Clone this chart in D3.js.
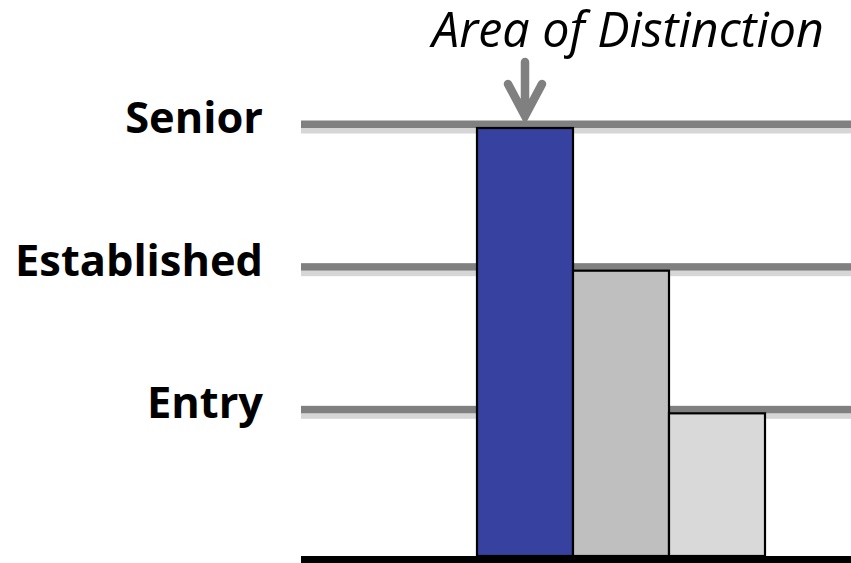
<!DOCTYPE html>
<html><head><meta charset="utf-8">
<script src="https://cdn.jsdelivr.net/npm/d3@7/dist/d3.min.js"></script>
<style>html,body{margin:0;padding:0;background:#fff;overflow:hidden}</style>
</head><body>
<script>
const levels = ["Entry", "Established", "Senior"];
const levelValues = [1, 2, 3];
const barNames = ["A", "B", "C"];
const barValues = [3, 2, 1];
const barColors = ["#3641A0", "#BFBFBF", "#D9D9D9"];
const annotation = "Area of Distinction";

const W = 851, H = 563;
const svg = d3.select("body").append("svg").attr("width", W).attr("height", H);

const y = d3.scaleLinear().domain([0, 3]).range([556, 128]);
const x = d3.scaleBand().domain(barNames).range([477, 765]).paddingInner(0).paddingOuter(0);
const gridX0 = 301, gridX1 = W;

// gridlines: dark band with light shadow beneath
const grid = svg.append("g");
grid.selectAll("rect.shadow").data(levelValues).join("rect")
  .attr("x", gridX0).attr("width", gridX1 - gridX0)
  .attr("y", d => y(d)).attr("height", 5.5).attr("fill", "#D6D6D6");
grid.selectAll("rect.dark").data(levelValues).join("rect")
  .attr("x", gridX0).attr("width", gridX1 - gridX0)
  .attr("y", d => y(d) - 7.5).attr("height", 7.5).attr("fill", "#808080");

// bars
svg.append("g").selectAll("rect").data(barValues).join("rect")
  .attr("x", (d, i) => x(barNames[i]))
  .attr("width", x.bandwidth())
  .attr("y", d => y(d))
  .attr("height", d => y(0) - y(d))
  .attr("fill", (d, i) => barColors[i])
  .attr("stroke", "#000").attr("stroke-width", 2.2);

// baseline
svg.append("rect").attr("x", gridX0).attr("width", gridX1 - gridX0)
  .attr("y", y(0)).attr("height", 8).attr("fill", "#000");

// level labels
const lab = svg.append("g").selectAll("text").data(levels).join("text")
  .attr("x", 263).attr("y", (d, i) => y(levelValues[i]) + 5)
  .attr("text-anchor", "end")
  .style("font-family", "'Open Sans', sans-serif").style("font-weight", "bold")
  .style("font-size", "40px").attr("fill", "#000")
  .text(d => d);
const estNode = lab.filter(d => d === "Established").node();
const w0 = estNode.getComputedTextLength();
lab.style("font-size", (40 * 248 / w0) + "px");

// annotation
const ann = svg.append("text").attr("x", 432).attr("y", 47)
  .style("font-family", "'Open Sans', sans-serif").style("font-style", "italic")
  .style("font-size", "40px").attr("fill", "#000").text(annotation);
const aw = ann.node().getComputedTextLength();
ann.style("font-size", (40 * 392 / aw) + "px");

// arrow
const ax = x("A") + x.bandwidth() / 2;
svg.append("path")
  .attr("d", `M${ax},62 L${ax},114 M${ax - 17},84 L${ax},116 L${ax + 17},84`)
  .attr("fill", "none").attr("stroke", "#808080").attr("stroke-width", 8.5)
  .attr("stroke-linecap", "round").attr("stroke-linejoin", "miter");
</script>
</body></html>
